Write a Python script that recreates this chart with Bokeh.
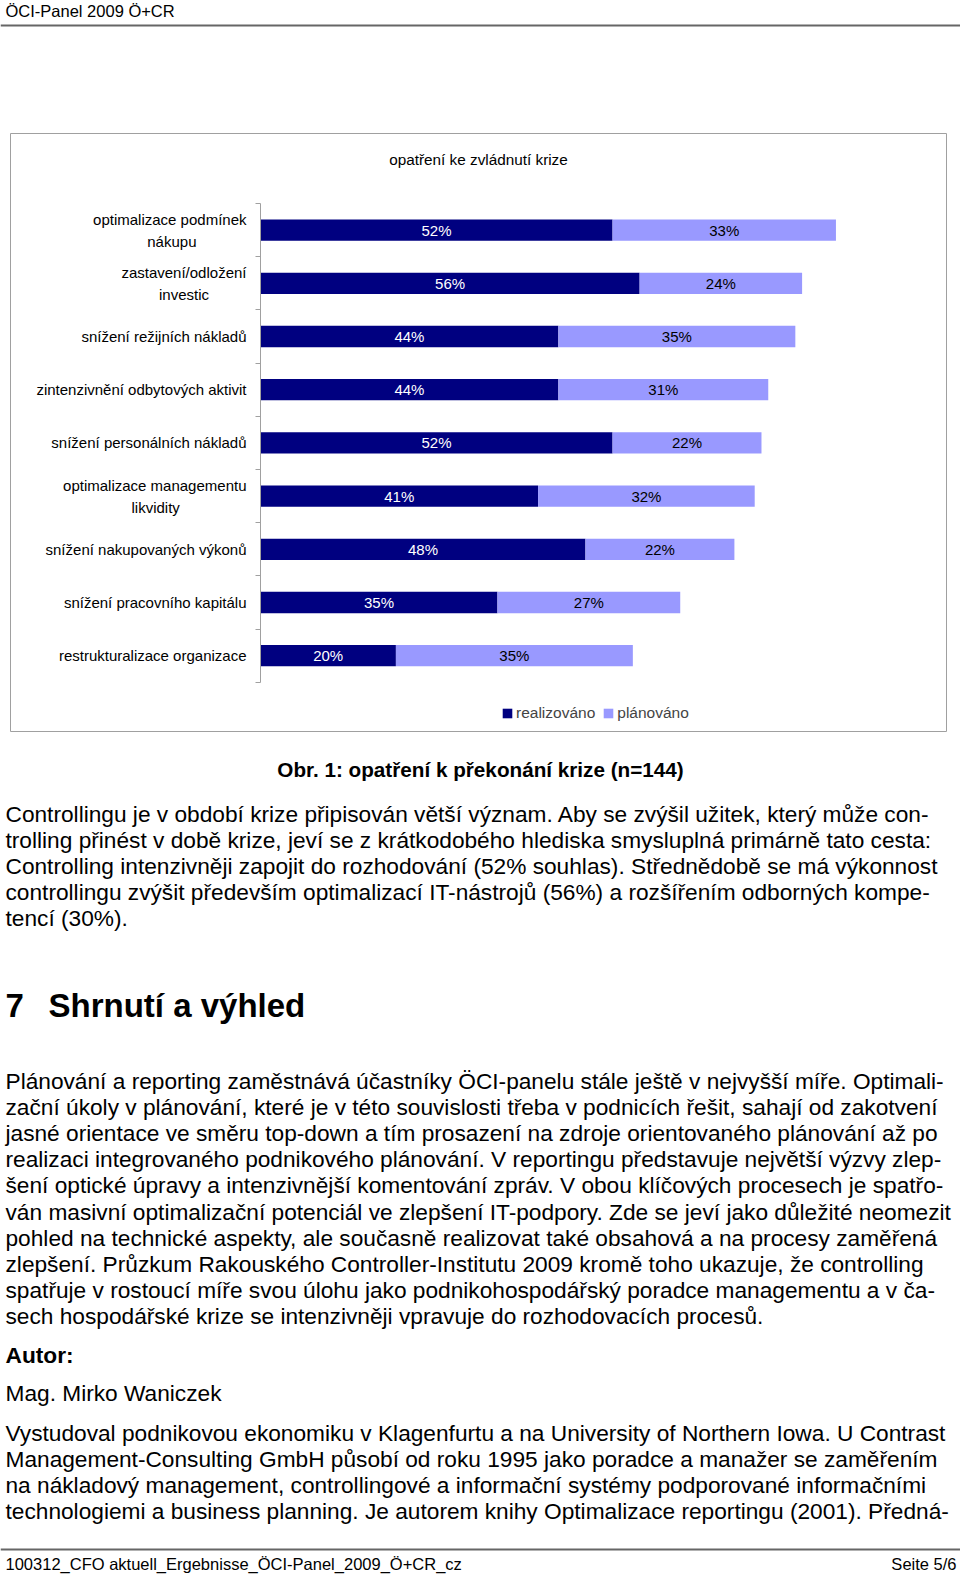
from bokeh.plotting import figure
from bokeh.layouts import column
from bokeh.models import ColumnDataSource, Range1d, FixedTicker, Legend, LegendItem
from bokeh.core.properties import value
from bokeh.embed import file_html
from bokeh.resources import INLINE

FONT = "Liberation Sans"
NB = "\u00a0"

# ---------------- data ----------------
chart_title = "opatření ke zvládnutí krize"
categories = [
    "optimalizace podmínek\nnákupu",
    "zastavení/odložení\ninvestic",
    "snížení režijních nákladů",
    "zintenzivnění odbytových aktivit",
    "snížení personálních nákladů",
    "optimalizace managementu\nlikvidity",
    "snížení nakupovaných výkonů",
    "snížení pracovního kapitálu",
    "restrukturalizace organizace",
]
realizovano = [52, 56, 44, 44, 52, 41, 48, 35, 20]
planovano = [33, 24, 35, 31, 22, 32, 22, 27, 35]
series_names = ["realizováno", "plánováno"]
colors = ["#000080", "#9999FF"]
label_colors = ["white", "black"]

header_text = "ÖCI-Panel 2009 Ö+CR"
caption = "Obr. 1: opatření k překonání krize (n=144)"
para1 = [
    "Controllingu je v období krize připisován větší význam. Aby se zvýšil užitek, který může con-",
    "trolling přinést v době krize, jeví se z krátkodobého hlediska smysluplná primárně tato cesta:",
    "Controlling intenzivněji zapojit do rozhodování (52% souhlas). Střednědobě se má výkonnost",
    "controllingu zvýšit především optimalizací IT-nástrojů (56%) a rozšířením odborných kompe-",
    "tencí (30%).",
]
heading_num = "7"
heading = "Shrnutí a výhled"
para2 = [
    "Plánování a reporting zaměstnává účastníky  ÖCI-panelu stále ještě v nejvyšší míře. Optimali-",
    "zační úkoly v plánování, které je v této souvislosti třeba v podnicích řešit, sahají od zakotvení",
    "jasné orientace ve směru top-down a tím prosazení na zdroje orientovaného plánování až po",
    "realizaci integrovaného podnikového plánování. V reportingu představuje největší výzvy zlep-",
    "šení optické úpravy a intenzivnější komentování zpráv. V obou klíčových procesech je spatřo-",
    "ván masivní optimalizační potenciál ve zlepšení IT-podpory. Zde se jeví jako důležité neomezit",
    "pohled na technické aspekty, ale současně realizovat také obsahová a na procesy zaměřená",
    "zlepšení. Průzkum Rakouského Controller-Institutu 2009 kromě toho ukazuje, že controlling",
    "spatřuje v rostoucí míře svou úlohu jako podnikohospodářský poradce managementu a v ča-",
    "sech hospodářské krize se intenzivněji vpravuje do rozhodovacích procesů.",
]
author_head = "Autor:"
author_name = "Mag. Mirko Waniczek"
para3 = [
    "Vystudoval podnikovou ekonomiku v Klagenfurtu a na University of Northern Iowa. U Contrast",
    "Management-Consulting GmbH působí od roku 1995 jako poradce a manažer se zaměřením",
    "na nákladový management, controllingové a informační systémy podporované informačními",
    "technologiemi a business planning. Je autorem knihy Optimalizace reportingu (2001). Předná-",
]
footer_left = "100312_CFO aktuell_Ergebnisse_ÖCI-Panel_2009_Ö+CR_cz"
footer_right = "Seite 5/6"

W = 960
TOP_H, CHART_H = 125, 615
BOT_H = 1575 - TOP_H - CHART_H


def page_fig(h, y_top, y_bottom):
    p = figure(width=W, height=h, x_range=Range1d(0, W), y_range=Range1d(y_bottom, y_top),
               output_backend="svg", toolbar_location=None, x_axis_location=None,
               y_axis_location=None, min_border=0, min_border_left=0, min_border_right=0,
               min_border_top=0, min_border_bottom=0)
    p.grid.visible = False
    p.outline_line_color = None
    p.background_fill_color = "white"
    p.border_fill_color = "white"
    return p


def put_text(p, x, y, s, size, bold=False, align="left", baseline="middle", color="black"):
    p.text(x=[x], y=[y], text=[s], text_font=value(FONT), text_font_size=f"{size}px",
           text_font_style="bold" if bold else "normal", text_align=align,
           text_baseline=baseline, text_color=color)


# ---------------- header ----------------
top = page_fig(TOP_H, 0, TOP_H)
put_text(top, 5, 10, header_text, 16.5)
top.segment(x0=[0], y0=[25], x1=[W], y1=[25], line_color="#666666", line_width=2)

# ---------------- chart ----------------
# pixel layout of the chart (page pixels): bar origin, px per percent, first row top, row height
X0, PX_PER_PCT, Y0, ROW = 260.0, 6.77, 203.0, 53.2
fx = lambda px: (px - X0) / PX_PER_PCT
fy = lambda py: (py - Y0) / ROW - 0.5
BOX = dict(l=10, r=946, t=133, b=731)

n = len(categories)
ys = list(range(n))
mid_r = [r / 2 for r in realizovano]
mid_p = [r + q / 2 for r, q in zip(realizovano, planovano)]
src = ColumnDataSource(dict(y=ys, r=realizovano, pl=planovano))

c = figure(width=W, height=CHART_H, x_range=Range1d(fx(0), fx(W)),
           y_range=Range1d(fy(TOP_H + CHART_H), fy(TOP_H)),
           output_backend="svg", toolbar_location=None, x_axis_location=None,
           y_axis_location="left", min_border=0, min_border_left=0, min_border_right=0,
           min_border_top=0, min_border_bottom=0)
c.grid.visible = False
c.outline_line_color = None
c.background_fill_color = "white"
c.border_fill_color = "white"

# chart-area frame
c.quad(left=[fx(BOX["l"])], right=[fx(BOX["r"])], top=[fy(BOX["t"])], bottom=[fy(BOX["b"])],
       fill_color=None, line_color="#a0a0a0", line_width=1)

rends = c.hbar_stack(["r", "pl"], y="y", height=0.4, color=colors, line_color=None, source=src)

for mids, vals, col in [(mid_r, realizovano, label_colors[0]), (mid_p, planovano, label_colors[1])]:
    c.text(x=mids, y=ys, text=[f"{v}%" for v in vals], text_font=value(FONT),
           text_font_size="15px", text_align="center", text_baseline="middle", text_color=col)

c.text(x=[fx(478)], y=[fy(158.7)], text=[chart_title], text_font=value(FONT),
       text_font_size="15.3px", text_align="center", text_baseline="middle", text_color="black")


def tick_label(lab):
    # centre the second line of two-line labels under the first (labels are right-aligned)
    if "\n" not in lab:
        return lab
    a, b = lab.split("\n")
    pad = {"nákupu": 12, "investic": 9, "likvidity": 16}.get(b, 0)
    return a + "\n" + b + NB * pad


ax = c.yaxis[0]
ax.fixed_location = 0
ax.bounds = (-0.5, n - 0.5)
ax.ticker = FixedTicker(ticks=ys, minor_ticks=[i - 0.5 for i in range(n + 1)])
ax.major_label_overrides = {i: tick_label(lab) for i, lab in enumerate(categories)}
ax.major_label_text_font = FONT
ax.major_label_text_font_size = "15px"
ax.major_label_text_line_height = 1.3
ax.major_label_text_color = "black"
ax.major_label_standoff = 9
ax.major_tick_out = 0
ax.major_tick_in = 0
ax.minor_tick_out = 5
ax.minor_tick_in = 0
ax.minor_tick_line_color = "#a0a0a0"
ax.axis_line_color = "#a0a0a0"

legend = Legend(items=[LegendItem(label=series_names[i], renderers=[rends[i]]) for i in range(2)],
                orientation="horizontal", location=(501, 18.5), padding=0, margin=0, spacing=7,
                glyph_width=12, glyph_height=12, label_standoff=3, label_height=15,
                label_text_font=FONT, label_text_font_size="15.5px", border_line_color=None,
                background_fill_alpha=0)
c.add_layout(legend, "center")

# ---------------- body ----------------
y_b0 = TOP_H + CHART_H
bot = page_fig(BOT_H, y_b0, y_b0 + BOT_H)
put_text(bot, 480, 769, caption, 20.7, bold=True, align="center")
LH = 26.1
BS = 22.7
for i, line in enumerate(para1):
    put_text(bot, 5, 813.4 + i * LH, line, BS)
put_text(bot, 5, 1005, heading_num, 33, bold=True)
put_text(bot, 48, 1005, heading, 33, bold=True)
for i, line in enumerate(para2):
    put_text(bot, 5, 1080.5 + i * LH, line, BS)
put_text(bot, 5, 1354.7, author_head, BS, bold=True)
put_text(bot, 5, 1392.8, author_name, BS)
for i, line in enumerate(para3):
    put_text(bot, 5, 1432 + i * LH, line, BS)
bot.segment(x0=[0], y0=[1549], x1=[W], y1=[1549], line_color="#666666", line_width=2)
put_text(bot, 5, 1563, footer_left, 16.5)
put_text(bot, 956, 1563, footer_right, 16.5, align="right")

layout = column(top, c, bot, spacing=0)
open("out.html", "w").write(file_html(layout, INLINE))
